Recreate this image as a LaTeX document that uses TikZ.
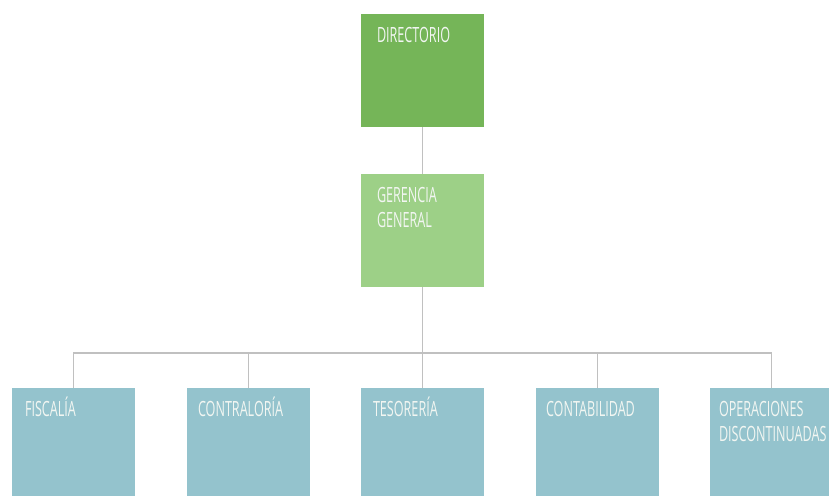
\documentclass[tikz,border=0pt]{standalone}
\usepackage{fontspec}
\setmainfont{Open Sans}[FakeStretch=0.6]
\usepackage{tikz}

\definecolor{dirgreen}{RGB}{117,181,88}
\definecolor{gergreen}{RGB}{157,208,135}
\definecolor{areablue}{RGB}{148,195,205}
\definecolor{linegray}{RGB}{192,192,192}
\definecolor{boxtext}{RGB}{242,246,242}

\begin{document}
\begin{tikzpicture}[x=1pt,y=-1pt,
  box/.style={rectangle,inner sep=0,minimum width=123,minimum height=113,draw=none},
  boxlabel/.style={anchor=base west,inner sep=0,align=left,text=boxtext,
    font=\fontsize{21}{25}\selectfont},
  link/.style={draw=linegray,line width=1.3pt}]
\useasboundingbox (0,0) rectangle (829,495);

\node[box,fill=dirgreen] (dir) at (422.5,70.5){};
\node[box,fill=gergreen] (ger) at (422.5,230.5){};

\node[box,fill=areablue] (fis) at (73.5,444.5){};
\node[box,fill=areablue] (con) at (248.5,444.5){};
\node[box,fill=areablue] (tes) at (422.5,444.5){};
\node[box,fill=areablue] (cnt) at (597.5,444.5){};
\node[box,fill=areablue] (ope) at (771.5,444.5){};

% base west sits on the last line, hence 54 for the two-line labels
\node[boxlabel] (ldir) at ([shift={(16,29)}]dir.north west) {DIRECTORIO};
\node[boxlabel] (lger) at ([shift={(16,54)}]ger.north west) {GERENCIA\\GENERAL};
\node[boxlabel] (lfis) at ([shift={(13,29)}]fis.north west) {FISCALÍA};
\node[boxlabel] (lcon) at ([shift={(11,29)}]con.north west) {CONTRALORÍA};
\node[boxlabel] (ltes) at ([shift={(12,29)}]tes.north west) {TESORERÍA};
\node[boxlabel] (lcnt) at ([shift={(10,29)}]cnt.north west) {CONTABILIDAD};
\node[boxlabel] (lope) at ([shift={(9,54)}]ope.north west) {OPERACIONES\\DISCONTINUADAS};

\coordinate (hub) at (422.5,353);

\draw[link] (dir.south) -- (ger.north);
\draw[link] (ger.south) -- (hub);
\foreach \to in {fis,con,tes,cnt,ope}
\draw[link] (hub) -| (\to.north);

\end{tikzpicture}
\end{document}
